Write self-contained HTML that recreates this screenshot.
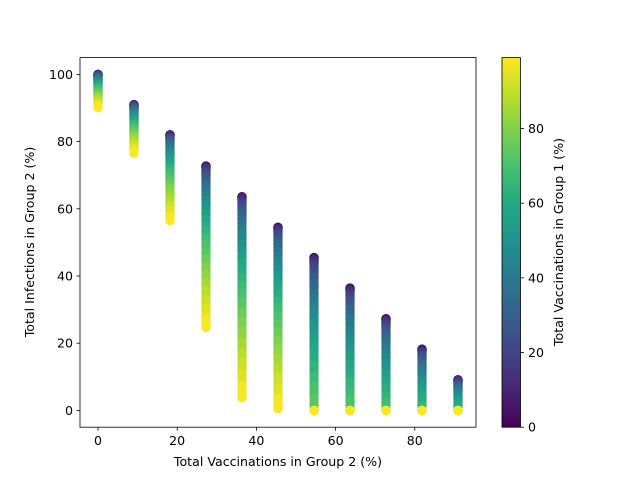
<!DOCTYPE html>
<html><head><meta charset="utf-8"><style>body{margin:0;background:#fff}svg{display:block;font-family:"DejaVu Sans","Liberation Sans",sans-serif}</style></head>
<body>
<svg id="chart" width="640" height="480">
<defs><linearGradient id="vir" x1="0" y1="1" x2="0" y2="0">
<stop offset="0" stop-color="#440154"/><stop offset="0.1" stop-color="#482475"/><stop offset="0.2" stop-color="#414487"/><stop offset="0.3" stop-color="#355f8d"/><stop offset="0.4" stop-color="#2a788e"/><stop offset="0.5" stop-color="#21918c"/><stop offset="0.6" stop-color="#22a884"/><stop offset="0.7" stop-color="#44bf70"/><stop offset="0.8" stop-color="#7ad151"/><stop offset="0.9" stop-color="#bddf26"/><stop offset="1" stop-color="#fde725"/></linearGradient></defs>
<g id="plot"></g>
<rect x="80" y="57.6" width="396" height="369.6" fill="none" stroke="#000" stroke-width="0.8"/>
<g id="axes"></g>
<text x="278" y="466" text-anchor="middle" font-size="12.6">Total Vaccinations in Group 2 (%)</text>
<text transform="translate(34,242) rotate(-90)" text-anchor="middle" font-size="12.6">Total Infections in Group 2 (%)</text>
<rect x="502" y="57.6" width="18.5" height="369.6" fill="url(#vir)" stroke="#000" stroke-width="0.8"/>
<text transform="translate(563,242) rotate(-90)" text-anchor="middle" font-size="12.6">Total Vaccinations in Group 1 (%)</text>
</svg>
<script>
const xValues=[0,9.09,18.18,27.27,36.36,45.45,54.55,63.64,72.73,81.82,90.91];
const group1Vacc=[0,3,6,9,12,15,18,21,24,27,30,33,36,39,42,45,48,51,54,57,60,63,66,69,72,75,78,81,84,87,90,93,96,99];
const col0=[100,100,100,99.9,99.9,99.8,99.7,99.6,99.4,99.3,99.1,98.9,98.7,98.5,98.2,98.0,97.7,97.4,97.1,96.7,96.4,96.0,95.6,95.2,94.8,94.3,93.9,93.4,92.9,92.4,91.8,91.3,90.7,90.1];
const col1=[91,91,90.9,90.9,90.8,90.7,90.5,90.3,90.1,89.9,89.7,89.4,89.1,88.7,88.4,88.0,87.6,87.2,86.7,86.2,85.7,85.1,84.6,84.0,83.3,82.7,82.0,81.3,80.6,79.8,79.0,78.2,77.4,76.5];
const col2=[82,82,81.9,81.8,81.6,81.4,81.2,80.9,80.5,80.1,79.7,79.2,78.6,78.0,77.4,76.7,76.0,75.2,74.4,73.5,72.6,71.7,70.7,69.6,68.5,67.4,66.2,64.9,63.6,62.3,60.9,59.5,58.0,56.5];
const col3=[72.7,72.7,72.5,72.3,72.0,71.6,71.1,70.5,69.9,69.1,68.3,67.4,66.4,65.2,64.1,62.8,61.4,60.0,58.4,56.8,55.1,53.3,51.4,49.4,47.3,45.1,42.9,40.6,38.1,35.6,33.0,30.3,27.6,24.7];
const col4=[63.6,63.5,63.4,63.1,62.7,62.2,61.6,60.9,60.1,59.2,58.1,57.0,55.7,54.3,52.8,51.2,49.5,47.7,45.8,43.8,41.6,39.4,37.0,34.5,32.0,29.3,26.5,23.6,20.5,17.4,14.2,10.8,7.4,3.8];
const col5=[54.5,54.5,54.3,54.1,53.7,53.3,52.7,52.1,51.3,50.5,49.5,48.5,47.4,46.1,44.8,43.3,41.8,40.2,38.4,36.6,34.7,32.6,30.5,28.3,25.9,23.5,21.0,18.4,15.6,12.8,9.9,6.9,3.7,0.5];
const col6=[45.5,45.4,45.2,44.8,44.3,43.7,42.9,41.9,40.8,39.6,38.2,36.7,35.0,33.2,31.2,29.1,26.9,24.5,21.9,19.2,16.4,13.4,10.3,7.0,3.6,0,0,0,0,0,0,0,0,0];
const col7=[36.4,36.3,36.1,35.8,35.4,34.8,34.1,33.3,32.4,31.3,30.1,28.8,27.3,25.7,24.0,22.2,20.2,18.1,15.9,13.6,11.1,8.5,5.8,3.0,0,0,0,0,0,0,0,0,0,0];
const col8=[27.3,27.2,27.1,26.8,26.5,26.0,25.4,24.8,24.0,23.1,22.1,21.1,19.9,18.6,17.2,15.7,14.1,12.4,10.6,8.7,6.7,4.5,2.3,0,0,0,0,0,0,0,0,0,0,0];
const col9=[18.2,18.2,18.0,17.9,17.6,17.3,16.8,16.4,15.8,15.2,14.4,13.7,12.8,11.8,10.8,9.7,8.6,7.3,6.0,4.6,3.2,1.6,0,0,0,0,0,0,0,0,0,0,0,0];
const col10=[9.1,9.1,9.0,8.9,8.8,8.6,8.4,8.1,7.8,7.5,7.1,6.7,6.2,5.7,5.1,4.5,3.9,3.2,2.4,1.6,0.8,0,0,0,0,0,0,0,0,0,0,0,0,0];
const columns=[col0,col1,col2,col3,col4,col5,col6,col7,col8,col9,col10];
const xTicks=[0,20,40,60,80];
const yTicks=[0,20,40,60,80,100];
const cTicks=[0,20,40,60,80];

const NS="http://www.w3.org/2000/svg";
const X=v=>80+(v+4.545)*396/100;
const Y=v=>427.2-(v+5)*369.6/110;
const CY=v=>427.2-v*369.6/99;
const stops=[[68,1,84],[72,36,117],[65,68,135],[53,95,141],[42,120,142],[33,145,140],[34,168,132],[68,191,112],[122,209,81],[189,223,38],[253,231,37]];
function vir(t){t=Math.max(0,Math.min(1,t))*10;const i=Math.min(9,Math.floor(t)),f=t-i,a=stops[i],b=stops[i+1];
return `rgb(${a.map((c,k)=>Math.round(c+(b[k]-c)*f)).join(',')})`;}
function mk(tag,attrs,parent){const e=document.createElementNS(NS,tag);for(const k in attrs)e.setAttribute(k,attrs[k]);parent.appendChild(e);return e;}
const plot=document.getElementById('plot'),axes=document.getElementById('axes');
columns.forEach((col,ci)=>{
 const cx=X(xValues[ci]);
 col.forEach((y,j)=>{
  if(j>0){
   const s=mk('line',{x1:cx,x2:cx,y1:Y(col[j-1]),y2:Y(y),stroke:vir((group1Vacc[j-1]+group1Vacc[j])/2/99),'stroke-width':9,'stroke-linecap':'round'},plot);
   
   
  }
  const c=mk('circle',{cx:cx,cy:Y(y),r:4.7,fill:vir(group1Vacc[j]/99)},plot);
  
  
 });
});
xTicks.forEach(v=>{
 const l=mk('line',{x1:X(v),x2:X(v),y1:427.2,y2:430.7,stroke:'#000','stroke-width':0.8},axes);
 
 
 const t=mk('text',{x:X(v),y:445,'text-anchor':'middle','font-size':12.6},axes);t.textContent=v;
 
 
});
yTicks.forEach(v=>{
 const l=mk('line',{x1:76.5,x2:80,y1:Y(v),y2:Y(v),stroke:'#000','stroke-width':0.8},axes);
 
 
 const t=mk('text',{x:73,y:Y(v)+4.5,'text-anchor':'end','font-size':12.6},axes);t.textContent=v;
 
 
});
cTicks.forEach(v=>{
 const l=mk('line',{x1:520.5,x2:524,y1:CY(v),y2:CY(v),stroke:'#000','stroke-width':0.8},axes);
 
 
 const t=mk('text',{x:528,y:CY(v)+4.5,'font-size':12.6},axes);t.textContent=v;
 
 
});
</script>
</body></html>
